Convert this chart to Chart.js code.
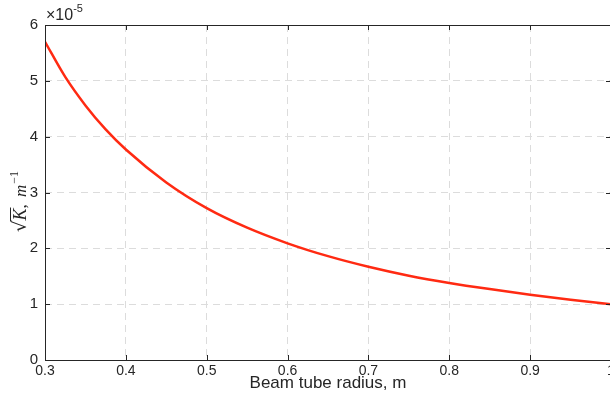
<!DOCTYPE html>
<html>
<head>
<meta charset="utf-8">
<script src="https://cdn.jsdelivr.net/npm/chart.js@4/dist/chart.umd.min.js"></script>
<style>
  html, body { margin: 0; padding: 0; background: #fff; overflow: hidden; }
  #wrap { width: 620px; height: 401px; }
</style>
</head>
<body>
<div id="wrap"><canvas id="kChart"></canvas></div>
<script>
// Beam tube radius (m) and sqrt(K) values (m^-1)
const radius = [0.30, 0.325, 0.35, 0.375, 0.40, 0.45, 0.50, 0.55, 0.60, 0.65, 0.70, 0.75, 0.80, 0.85, 0.90, 0.95, 1.00];
const sqrtK = [5.70e-5, 5.07e-5, 4.56e-5, 4.13e-5, 3.77e-5, 3.18e-5, 2.72e-5, 2.37e-5, 2.09e-5, 1.86e-5, 1.67e-5, 1.51e-5, 1.38e-5, 1.27e-5, 1.17e-5, 1.08e-5, 1.00e-5];
const xTicks = [0.3, 0.4, 0.5, 0.6, 0.7, 0.8, 0.9, 1];
const yTicks = [0, 1e-5, 2e-5, 3e-5, 4e-5, 5e-5, 6e-5];

const font = 'Liberation Sans, Arial, sans-serif';

// box around the plot, inward tick marks, exponent and y label
const framePlugin = {
    id: 'frame',
    afterDraw(chart) {
        const { ctx, chartArea: a, scales } = chart;
        ctx.save();
        ctx.strokeStyle = '#262626';
        ctx.lineWidth = 1;
        ctx.strokeRect(a.left + 0.5, a.top + 0.5, a.right - a.left, a.bottom - a.top);
        ctx.beginPath();
        xTicks.forEach(t => {
            const x = Math.round(scales.x.getPixelForValue(t)) + 0.5;
            ctx.moveTo(x, a.bottom); ctx.lineTo(x, a.bottom - 5);
            ctx.moveTo(x, a.top); ctx.lineTo(x, a.top + 5);
        });
        yTicks.forEach(t => {
            const y = Math.round(scales.y.getPixelForValue(t)) + 0.5;
            ctx.moveTo(a.left, y); ctx.lineTo(a.left + 5, y);
            ctx.moveTo(a.right, y); ctx.lineTo(a.right - 5, y);
        });
        ctx.stroke();

        // x10^-5 multiplier
        ctx.fillStyle = '#262626';
        ctx.textBaseline = 'alphabetic';
        ctx.textAlign = 'left';
        ctx.font = '16px ' + font;
        ctx.fillText('\u00d710', a.left + 1, a.top - 5);
        const mw = ctx.measureText('\u00d710').width;
        ctx.font = '11px ' + font;
        ctx.fillText('-5', a.left + 1 + mw, a.top - 13);

        // y axis label: sqrt(K), m^-1
        ctx.translate(20, 198);
        ctx.rotate(-Math.PI / 2);
        ctx.font = '18px DejaVu Serif, Liberation Serif, serif';
        let x = -34;
        ctx.fillText('\u221a', x, 6);
        x += ctx.measureText('\u221a').width;
        ctx.font = 'italic 18px Liberation Serif, serif';
        const kw = ctx.measureText('K').width;
        ctx.fillText('K', x, 6);
        ctx.beginPath();
        ctx.moveTo(x - 1, -9.5); ctx.lineTo(x + kw + 1, -9.5);
        ctx.stroke();
        x += kw;
        ctx.font = '17px Liberation Serif, serif';
        ctx.fillText(', ', x, 6);
        x += ctx.measureText(', ').width + 3;
        ctx.font = 'italic 17px Liberation Serif, serif';
        ctx.fillText('m', x, 6);
        x += ctx.measureText('m').width + 1;
        ctx.font = '12px Liberation Serif, serif';
        ctx.fillText('\u22121', x, -2);
        ctx.restore();
    }
};

const ctx = document.getElementById('kChart').getContext('2d');
new Chart(ctx, {
    type: 'line',
    data: {
        datasets: [
            {
                data: radius.map((r, i) => ({ x: r, y: sqrtK[i] })),
                borderColor: '#ff2a12',
                borderWidth: 2.5,
                pointRadius: 0,
                cubicInterpolationMode: 'monotone',
                fill: false
            }
        ]
    },
    options: {
        responsive: true,
        maintainAspectRatio: false,
        animation: false,
        layout: { padding: { top: 25, right: 9, left: 0, bottom: 0 } },
        plugins: {
            legend: { display: false },
            tooltip: { enabled: false }
        },
        scales: {
            x: {
                type: 'linear',
                min: 0.3,
                max: 1,
                afterBuildTicks: axis => { axis.ticks = xTicks.map(v => ({ value: v })); },
                afterFit: axis => { axis.height = 41; },
                ticks: {
                    color: '#262626',
                    font: { family: font, size: 14 },
                    padding: 3,
                    maxRotation: 0,
                    callback: v => String(v)
                },
                grid: { color: '#dcdcdc', drawTicks: false },
                border: { display: false, dash: [7, 5] },
                title: {
                    display: true,
                    text: 'Beam tube radius, m',
                    color: '#262626',
                    font: { family: font, size: 17 },
                    padding: { top: 0, bottom: 7 }
                }
            },
            y: {
                min: 0,
                max: 6e-5,
                afterBuildTicks: axis => { axis.ticks = yTicks.map(v => ({ value: v })); },
                afterFit: axis => { axis.width = 45; },
                ticks: {
                    color: '#262626',
                    font: { family: font, size: 15 },
                    padding: 7,
                    callback: v => String(Math.round(v * 1e5))
                },
                grid: { color: '#dcdcdc', drawTicks: false },
                border: { display: false, dash: [7, 5] }
            }
        }
    },
    plugins: [framePlugin]
});
</script>
</body>
</html>
